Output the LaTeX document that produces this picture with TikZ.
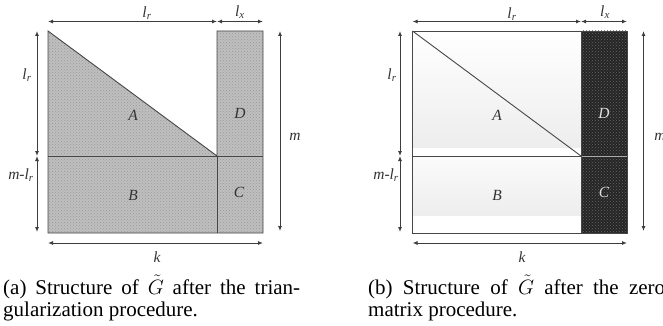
\documentclass[tikz,border=0pt]{standalone}
\usepackage{fontspec}
\setmainfont{Liberation Serif}
\usetikzlibrary{arrows.meta,patterns}
\definecolor{dimgray}{HTML}{3D3D3D}
\definecolor{edgegray}{HTML}{474747}
\definecolor{darkfill}{HTML}{252525}
\begin{document}
\begin{tikzpicture}[x=1pt,y=-1pt,
  dim/.style={draw=dimgray, line width=1pt, {Latex[length=5pt,width=4pt]}-{Latex[length=5pt,width=4pt]}},
  lbl/.style={font=\fontsize{15.5}{17}\selectfont\itshape, inner sep=0pt, text=black!80},
  wlbl/.style={lbl, text=gray!25},
  edge/.style={draw=edgegray, line width=0.9pt},
  captext/.style={font=\fontsize{21}{22}\selectfont, text width=297pt, align=justify, inner sep=0pt, anchor=base west}
]
\useasboundingbox (0,0) rectangle (663,326);

% ---------------- Panel (a) ----------------
\coordinate (aTL) at (48,31);
\coordinate (aTM) at (217,31);
\coordinate (aTR) at (263,31);
\coordinate (aML) at (48,156);
\coordinate (aMM) at (217,156);
\coordinate (aMR) at (263,156);
\coordinate (aBL) at (48,233);
\coordinate (aBM) at (217,233);
\coordinate (aBR) at (263,233);

\fill[gray!50] (aTL) -- (aMM) -- (aTM) -- (aTR) -- (aBR) -- (aBL) -- cycle;
\fill[pattern=crosshatch dots, pattern color=gray!80] (aTL) -- (aMM) -- (aTM) -- (aTR) -- (aBR) -- (aBL) -- cycle;
\draw[edge] (aTL) -- (aBL) -- (aBR) -- (aTR) -- (aTM) -- (aMM) -- cycle;
\draw[edge] (aML) -- (aMR);
\draw[edge] (aMM) -- (aBM);

% dimension arrows (a)
\coordinate (a1) at (48,21.5);
\coordinate (a2) at (217,21.5);
\coordinate (a3) at (263,21.5);
\draw[dim] (a1) -- (a2);
\draw[dim] (a2) -- (a3);
\coordinate (a4) at (37,31);
\coordinate (a5) at (37,156);
\coordinate (a6) at (37,232);
\draw[dim] (a4) -- (a5);
\draw[dim] (a5) -- (a6);
\coordinate (a7) at (280,31);
\coordinate (a8) at (280,231);
\draw[dim] (a7) -- (a8);
\coordinate (a9) at (48,243);
\coordinate (a10) at (263,243);
\draw[dim] (a9) -- (a10);

\node[lbl] (alr) at (147,13) {l\textsubscript{r}};
\node[lbl] (alx) at (240,12) {l\textsubscript{x}};
\node[lbl] (alrv) at (27,75) {l\textsubscript{r}};
\node[lbl] (amlr) at (21,175) {m-l\textsubscript{r}};
\node[lbl] (am) at (295,137) {m};
\node[lbl] (ak) at (157,257) {k};
\node[lbl] (aA) at (133,115) {A};
\node[lbl] (aB) at (133,195) {B};
\node[lbl] (aD) at (240,113) {D};
\node[lbl] (aC) at (239,192) {C};

\node[captext] (acap) at (3,294) {(a) Structure of $\tilde{G}$ after the trian-\linebreak gularization procedure.};

% ---------------- Panel (b) ----------------
\coordinate (bTL) at (412.5,31);
\coordinate (bTM) at (581,31);
\coordinate (bTR) at (627,31);
\coordinate (bML) at (412.5,156);
\coordinate (bMM) at (581,156);
\coordinate (bMR) at (627,156);
\coordinate (bBL) at (412.5,233);
\coordinate (bBM) at (581,233);
\coordinate (bBR) at (627,233);

\shade[top color=white, bottom color=gray!14] (bTL) rectangle (581,147);
\shade[top color=gray!3, bottom color=gray!14] (bML) rectangle (581,215);
\fill[darkfill] (bTM) rectangle (bBR);
\fill[pattern=crosshatch dots, pattern color=black!60] (bTM) rectangle (bBR);
\draw[gray!65, line width=0.9pt] (bMM) rectangle (bBR);
\draw[edge] (bTL) rectangle (bBR);
\draw[edge] (bTL) -- (bMM);
\draw[edge] (bML) -- (bMM);
\draw[edge] (bTM) -- (bBM);

\coordinate (b1) at (412.5,21.5);
\coordinate (b2) at (581,21.5);
\coordinate (b3) at (627,21.5);
\draw[dim] (b1) -- (b2);
\draw[dim] (b2) -- (b3);
\coordinate (b4) at (400,31);
\coordinate (b5) at (400,156);
\coordinate (b6) at (400,232);
\draw[dim] (b4) -- (b5);
\draw[dim] (b5) -- (b6);
\coordinate (b7) at (643.5,31);
\coordinate (b8) at (643.5,231);
\draw[dim] (b7) -- (b8);
\coordinate (b9) at (412.5,243);
\coordinate (b10) at (627,243);
\draw[dim] (b9) -- (b10);

\node[lbl] (blr) at (512,14) {l\textsubscript{r}};
\node[lbl] (blx) at (605,12) {l\textsubscript{x}};
\node[lbl] (blrv) at (392,75) {l\textsubscript{r}};
\node[lbl] (bmlr) at (386,175) {m-l\textsubscript{r}};
\node[lbl] (bm) at (660,137) {m};
\node[lbl] (bk) at (522,257) {k};
\node[lbl] (bA) at (497,115) {A};
\node[lbl] (bB) at (497,195) {B};
\node[wlbl] (bD) at (604,113) {D};
\node[wlbl] (bC) at (604,192) {C};

\node[captext] (bcap) at (368,294) {(b) Structure of $\tilde{G}$ after the zero\linebreak matrix procedure.};
\end{tikzpicture}
\end{document}
